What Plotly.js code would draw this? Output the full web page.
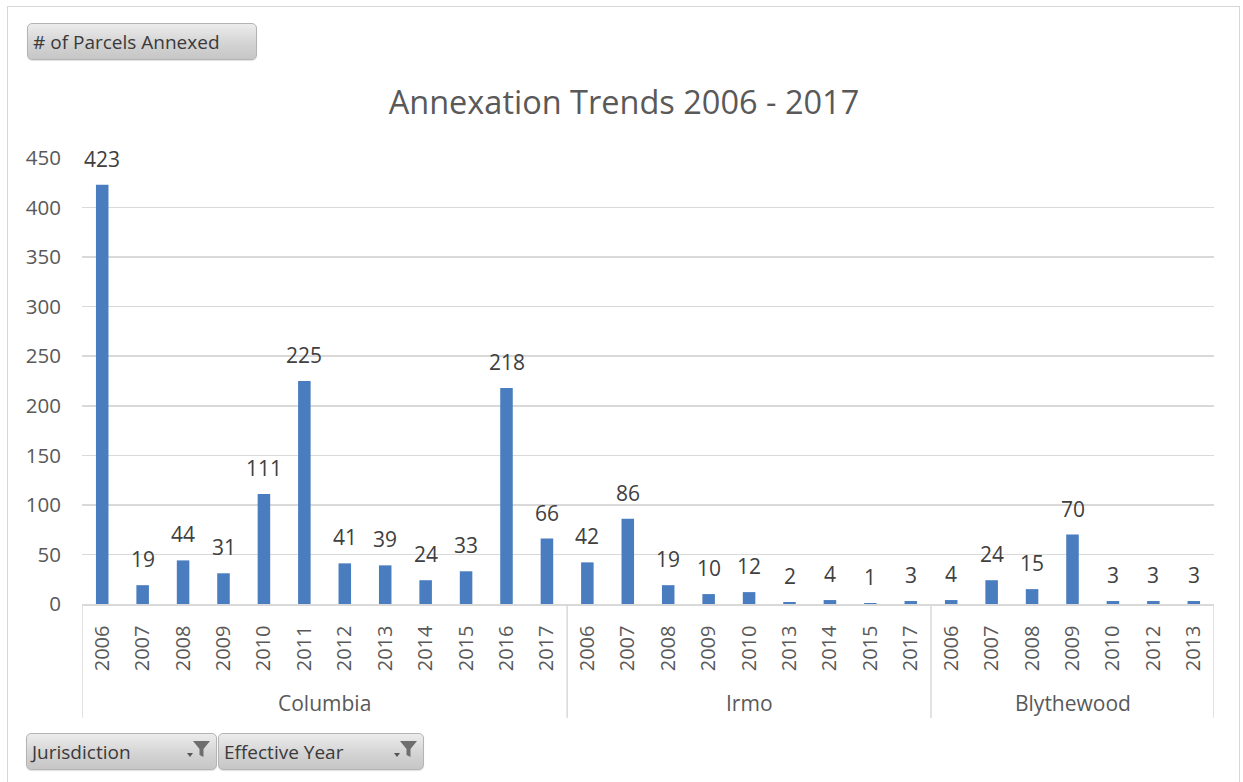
<!DOCTYPE html>
<html>
<head>
<meta charset="utf-8">
<script src="https://cdn.plot.ly/plotly-3.0.1.min.js"></script>
<style>
  html, body { margin: 0; padding: 0; background: #ffffff; }
  #wrap { position: relative; width: 1243px; height: 782px; overflow: hidden; background: #fff; font-family: "Open Sans", sans-serif; }
  #frame { position: absolute; left: 7px; top: 6px; width: 1233px; height: 800px; border: 1.5px solid #d6d6d6; box-sizing: border-box; }
  #chart { position: absolute; left: 0; top: 0; width: 1243px; height: 782px; }
  .btn { position: absolute; box-sizing: border-box; border: 1px solid #b4b4b4; border-radius: 5px;
         background: linear-gradient(#ececec, #d4d4d4 55%, #c6c6c6); color: #3a3a3a;
         font-family: "Open Sans", sans-serif; font-size: 19px; line-height: 36px; padding-left: 5px;
         box-shadow: 0 1px 1px rgba(0,0,0,0.12); white-space: nowrap; }
  .btn svg { position: absolute; right: 4px; top: 5px; }
</style>
</head>
<body>
<div id="wrap">
  <div id="chart"></div>
  <div id="frame"></div>
  <div class="btn" style="left:27px;top:23px;width:230px;height:37px;"># of Parcels Annexed</div>
  <div class="btn" style="left:26px;top:733px;width:191px;height:37px;">Jurisdiction
    <svg width="26" height="24" viewBox="0 0 26 24"><path d="M7 2 H24 L17.5 10 V18 L13.5 16 V10 Z" fill="#6e6e6e"/><path d="M1 14 H7 L4 18 Z" fill="#555"/></svg>
  </div>
  <div class="btn" style="left:218px;top:733px;width:206px;height:37px;">Effective Year
    <svg width="26" height="24" viewBox="0 0 26 24"><path d="M7 2 H24 L17.5 10 V18 L13.5 16 V10 Z" fill="#6e6e6e"/><path d="M1 14 H7 L4 18 Z" fill="#555"/></svg>
  </div>
</div>
<script>
// ---- data ----
const jurisdictions = ["Columbia", "Irmo", "Blythewood"];
const columbiaYears = ["2006","2007","2008","2009","2010","2011","2012","2013","2014","2015","2016","2017"];
const columbiaParcels = [423, 19, 44, 31, 111, 225, 41, 39, 24, 33, 218, 66];
const irmoYears = ["2006","2007","2008","2009","2010","2013","2014","2015","2017"];
const irmoParcels = [42, 86, 19, 10, 12, 2, 4, 1, 3];
const blythewoodYears = ["2006","2007","2008","2009","2010","2012","2013"];
const blythewoodParcels = [4, 24, 15, 70, 3, 3, 3];
const chartTitle = "Annexation Trends 2006 - 2017";
const yTicks = [0, 50, 100, 150, 200, 250, 300, 350, 400, 450];

// ---- build flat category positions ----
const groups = [
  {name: jurisdictions[0], years: columbiaYears, vals: columbiaParcels},
  {name: jurisdictions[1], years: irmoYears, vals: irmoParcels},
  {name: jurisdictions[2], years: blythewoodYears, vals: blythewoodParcels}
];
const xs = [], ys = [], tickText = [];
const groupSpans = [];
let idx = 0;
groups.forEach(g => {
  const start = idx;
  g.years.forEach((yr, k) => { xs.push(idx); ys.push(g.vals[k]); tickText.push(yr); idx++; });
  groupSpans.push({name: g.name, start: start, end: idx - 1});
});
const n = idx;

const labelColor = "#404040";
const axisColor = "#595959";
const gridColor = "#d9d9d9";

const trace = {
  type: "bar", x: xs, y: ys, width: 0.31,
  marker: {color: "#4a7dbf"}, hoverinfo: "skip"
};

const plotTop = 158, plotBottom = 604, plotH = plotBottom - plotTop;
const annotations = [];
xs.forEach((x, i) => {
  annotations.push({
    x: x, y: ys[i], xref: "x", yref: "y", text: String(ys[i]),
    showarrow: false, yanchor: "middle", yshift: 26,
    font: {family: "Open Sans", size: 21, color: labelColor}
  });
});
groupSpans.forEach(s => {
  annotations.push({
    x: (s.start + s.end) / 2, y: (plotBottom - 703) / plotH, xref: "x", yref: "paper",
    text: s.name, showarrow: false, yanchor: "middle",
    font: {family: "Open Sans", size: 21, color: axisColor}
  });
});

const shapes = [];
const bounds = [-0.5].concat(groupSpans.map(s => s.end + 0.5));
bounds.forEach(b => {
  shapes.push({type: "line", xref: "x", yref: "paper", x0: b, x1: b, y0: 0, y1: (plotBottom - 718) / plotH,
    line: {color: gridColor, width: 1.5}});
});

const layout = {
  width: 1243, height: 782,
  margin: {l: 82, r: 29, t: plotTop, b: 782 - plotBottom, pad: 0},
  paper_bgcolor: "rgba(0,0,0,0)", plot_bgcolor: "rgba(0,0,0,0)",
  showlegend: false,
  title: {text: chartTitle, x: 0.502, xref: "container", y: 1 - 103 / 782, yref: "container", yanchor: "middle", xanchor: "center",
    font: {family: "Open Sans", size: 32.5, color: axisColor}},
  xaxis: {
    range: [-0.5, n - 0.5], tickmode: "array", tickvals: xs, ticktext: tickText,
    tickangle: -90, ticks: "", showgrid: false, zeroline: false,
    showline: true, linecolor: gridColor, linewidth: 1.5,
    ticklabelstandoff: 12,
    tickfont: {family: "Open Sans", size: 20, color: axisColor}, fixedrange: true
  },
  yaxis: {
    range: [0, 450], tickmode: "array", tickvals: yTicks, ticks: "",
    showgrid: true, gridcolor: gridColor, gridwidth: 1.5, zeroline: false, showline: false,
    ticklabelstandoff: 20,
    tickfont: {family: "Open Sans", size: 20.5, color: axisColor}, fixedrange: true
  },
  annotations: annotations, shapes: shapes, bargap: 0.69
};

Plotly.newPlot("chart", [trace], layout, {displayModeBar: false, staticPlot: true});
</script>
</body>
</html>
